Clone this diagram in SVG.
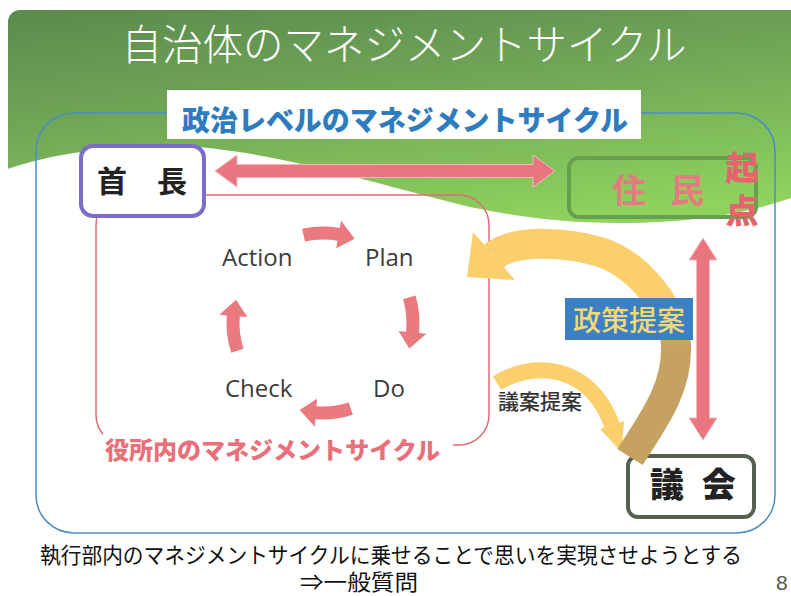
<svg xmlns="http://www.w3.org/2000/svg" width="791" height="596" viewBox="0 0 791 596">
<defs>
<linearGradient id="gHead" x1="0" y1="0" x2="0.35" y2="1">
<stop offset="0" stop-color="#5a8a4e"/>
<stop offset="0.45" stop-color="#71a757"/>
<stop offset="1" stop-color="#8fd35e"/>
</linearGradient>
<linearGradient id="gBig" gradientUnits="userSpaceOnUse" x1="0" y1="300" x2="0" y2="345">
<stop offset="0" stop-color="#fbcf6c"/>
<stop offset="1" stop-color="#c6a262"/>
</linearGradient>
<path id="cyc" d="M92.52,-27.41 A96.5,96.5 0 0 1 95.97,10.09 L103.43,10.87 L86.29,25.56 L75.58,7.94 L83.04,8.73 A83.5,83.5 0 0 0 80.06,-23.71 Z"/>
</defs>
<style>
.jp{font-family:"Noto Sans CJK JP","Noto Sans CJK SC",sans-serif}
.box{fill:#fff;stroke-width:4}
.pdca{fill:#ea7a80}
.pt{font-family:"Open Sans","Liberation Sans",sans-serif;font-size:24px;fill:#3c3c3c}
.red{fill:#e9767e}
</style>
<rect width="791" height="596" fill="#fff"/>
<g id="background">
<rect x="8" y="10" width="800" height="240" rx="12" fill="url(#gHead)"/>
<path d="M0,172 C40,156 100,146 170,146 C260,146 380,185 470,207 C520,217 560,223 620,223 C700,223 750,212 791,198 L791,596 L0,596 Z" fill="#fff"/>
</g>
<text x="404" y="60" class="jp" font-size="42" font-weight="300" fill="#fff" text-anchor="middle" textLength="565" lengthAdjust="spacingAndGlyphs">自治体のマネジメントサイクル</text>
<g id="political-frame">
<rect x="36" y="113" width="739" height="420" rx="38" fill="none" stroke="#4a8cc8" stroke-width="1.5"/>
<rect x="167" y="90" width="474" height="49" fill="#fff"/>
<text x="182" y="131" class="jp" font-size="28" font-weight="900" fill="#2e7cc0" textLength="446" lengthAdjust="spacingAndGlyphs">政治レベルのマネジメントサイクル</text>
</g>
<g id="office-frame">
<rect x="96" y="195" width="393" height="250" rx="30" fill="none" stroke="#e06c75" stroke-width="1.5"/>
<rect x="103" y="432" width="350" height="36" fill="#fff"/>
<text x="105" y="459" class="jp" font-size="24" font-weight="900" fill="#e8707a" textLength="335" lengthAdjust="spacingAndGlyphs">役所内のマネジメントサイクル</text>
</g>
<g id="connectors">
<polygon class="red" stroke="#f4b8bb" stroke-width="1" points="215,171 237,155 237,164.5 533,164.5 533,155 555,171 533,187 533,177.5 237,177.5 237,187"/>
<polygon class="red" stroke="#f4b8bb" stroke-width="1" points="703,238 717,260 709.5,260 709.5,418 717,418 703,440 689,418 696.5,418 696.5,260 689,260"/>
<use href="#cyc" class="pdca" transform="translate(323,323) rotate(-86)"/>
<use href="#cyc" class="pdca" transform="translate(323,323) rotate(0)"/>
<use href="#cyc" class="pdca" transform="translate(323,323) rotate(88.5)"/>
<use href="#cyc" class="pdca" transform="translate(323,323) rotate(178.5)"/>
<path d="M497,383 C535,360 590,365 612,425" fill="none" stroke="#fbcf6c" stroke-width="16"/>
<polygon points="624,421 600,429 621.5,452" fill="#fbcf6c"/>
</g>
<g id="pdca-labels">
<text x="222" y="266" class="pt">Action</text>
<text x="365" y="266" class="pt">Plan</text>
<text x="225" y="397" class="pt">Check</text>
<text x="373" y="397" class="pt">Do</text>
</g>
<g id="node-shucho">
<rect x="81" y="146" width="123" height="70" rx="12" class="box" stroke="#7b6dc8"/>
<text x="97" y="192" class="jp" font-size="30" font-weight="700" fill="#222">首　長</text>
</g>
<g id="node-jumin">
<rect x="569" y="158" width="187" height="59" rx="10" fill="none" stroke="#66a04f" stroke-width="4"/>
<text x="612" y="203" class="jp" font-size="34" font-weight="700" fill="#e57a80" letter-spacing="-5">住　民</text>
<text class="jp" font-size="33" font-weight="900" fill="#e4636e" text-anchor="middle"><tspan x="742" y="180">起</tspan><tspan x="742" y="223">点</tspan></text>
</g>
<g id="node-gikai">
<rect x="628" y="456" width="126" height="61" rx="10" class="box" stroke="#55604f"/>
<text x="650" y="497" class="jp" font-size="34" font-weight="900" fill="#222" letter-spacing="5">議 会</text>
</g>
<g id="policy-arrow">
<path d="M630,457 C650,425 678,390 676,345 C674,310 640,265 600,252 C570,243 515,238 494,256" fill="none" stroke="url(#gBig)" stroke-width="30"/>
<polygon points="473,232 515,280 467,277" fill="#fbcf6c"/>
<rect x="565" y="298" width="128" height="42" fill="#3b7fc4"/>
<text x="573" y="331" class="jp" font-size="28" font-weight="500" fill="#f3d873" textLength="112" lengthAdjust="spacingAndGlyphs">政策提案</text>
</g>
<text x="498" y="409" class="jp" font-size="21" font-weight="500" fill="#333" textLength="84" lengthAdjust="spacingAndGlyphs">議案提案</text>
<g id="footer">
<text x="40" y="563" class="jp" font-size="22" fill="#111" textLength="702" lengthAdjust="spacingAndGlyphs">執行部内のマネジメントサイクルに乗せることで思いを実現させようとする</text>
<text x="300" y="590" class="jp" font-size="22" fill="#111" textLength="118" lengthAdjust="spacingAndGlyphs">⇒一般質問</text>
<text x="776" y="590" font-family="Liberation Sans, sans-serif" font-size="21" fill="#555">8</text>
</g>
</svg>
